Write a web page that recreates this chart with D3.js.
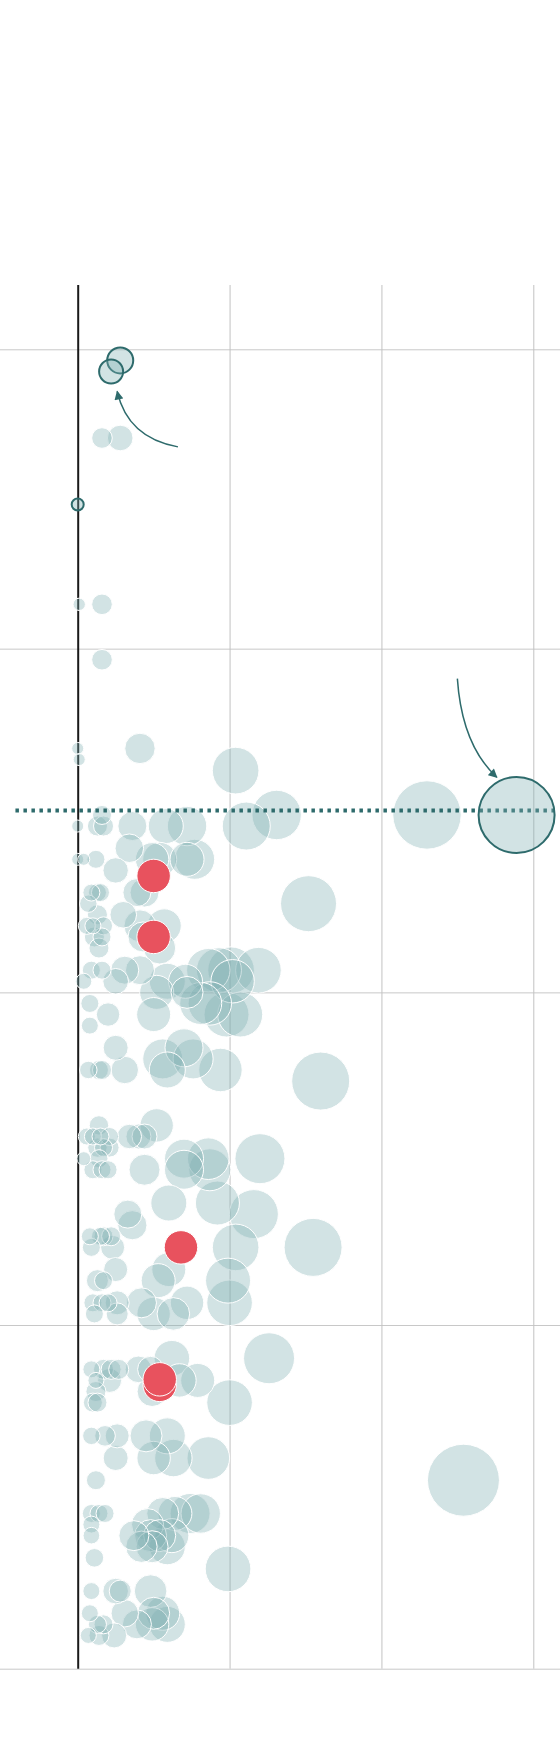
<!DOCTYPE html>
<html>
<head>
<meta charset="utf-8">
<script src="https://cdn.jsdelivr.net/npm/d3@7"></script>
<style>
  body { margin: 0; background: #fff; }
</style>
</head>
<body>
<div id="chart"></div>
<script>
// gridline values
const xTicks = [0, 10, 20, 30];
const dayTicks = [0, 27, 58, 88, 119];

// dotted reference line
const avgDay = 41.6;
const avgSpan = [-4.1, 31.5];

// [day, value, count]
const dots = [
  [8, 1.6, 106], [8, 2.8, 164],
  [23, 0.1, 38], [23, 1.6, 106],
  [28, 1.6, 106],
  [36, 0.0, 36], [36, 4.1, 231],
  [37, 0.1, 36],
  [38, 10.4, 543],
  [42, 1.6, 90], [42, 13.1, 610], [42, 23.0, 1170],
  [43, 0.0, 36], [43, 1.3, 100], [43, 1.7, 100], [43, 3.6, 210], [43, 5.8, 306], [43, 7.2, 388], [43, 11.1, 576],
  [45, 3.4, 204],
  [46, 0.0, 36], [46, 0.4, 36], [46, 1.2, 81], [46, 4.9, 279], [46, 5.4, 289], [46, 7.2, 289], [46, 7.7, 400],
  [47, 2.5, 161],
  [49, 0.9, 72], [49, 1.3, 81], [49, 1.5, 81], [49, 3.9, 196], [49, 4.4, 210],
  [50, 0.7, 76], [50, 15.2, 784],
  [51, 1.3, 100], [51, 3.0, 177],
  [52, 0.6, 72], [52, 1.0, 64], [52, 1.7, 81], [52, 4.1, 256], [52, 5.7, 289],
  [53, 1.1, 100], [53, 1.6, 81], [53, 4.3, 225],
  [54, 1.4, 100], [54, 5.4, 256],
  [56, 0.9, 81], [56, 1.6, 81], [56, 3.1, 196], [56, 4.1, 210], [56, 8.6, 471], [56, 9.3, 506], [56, 10.1, 543], [56, 11.9, 520],
  [57, 0.4, 64], [57, 2.5, 164], [57, 5.9, 324], [57, 7.1, 289], [57, 10.2, 471],
  [58, 5.2, 289], [58, 7.2, 256],
  [59, 0.8, 81], [59, 8.1, 441], [59, 8.7, 471],
  [60, 2.0, 137], [60, 5.0, 289], [60, 9.8, 506], [60, 10.7, 506],
  [61, 0.8, 72],
  [63, 2.5, 156], [63, 7.0, 361],
  [64, 5.6, 400], [64, 7.6, 400],
  [65, 0.7, 76], [65, 1.4, 90], [65, 1.6, 90], [65, 3.1, 188], [65, 5.9, 324], [65, 9.4, 471],
  [66, 16.0, 841],
  [70, 1.4, 94], [70, 5.2, 279],
  [71, 0.6, 72], [71, 1.0, 72], [71, 1.5, 72], [71, 2.1, 81], [71, 3.4, 149], [71, 4.0, 156], [71, 4.4, 156],
  [72, 1.3, 94], [72, 1.7, 81], [72, 2.1, 90],
  [73, 0.4, 49], [73, 1.4, 81], [73, 7.0, 380], [73, 8.6, 433], [73, 12.0, 625],
  [74, 1.0, 81], [74, 1.6, 81], [74, 2.0, 81], [74, 4.4, 240], [74, 7.0, 380], [74, 8.7, 441],
  [77, 6.0, 324], [77, 9.2, 484],
  [78, 3.3, 196], [78, 11.6, 600],
  [79, 3.6, 213],
  [80, 0.8, 72], [80, 1.5, 81], [80, 1.7, 90], [80, 2.2, 90],
  [81, 0.9, 81], [81, 2.3, 144], [81, 10.4, 543], [81, 15.5, 841],
  [83, 2.5, 144], [83, 6.0, 289],
  [84, 1.3, 121], [84, 1.7, 81], [84, 5.3, 289], [84, 9.9, 506],
  [86, 1.0, 81], [86, 1.6, 81], [86, 2.0, 81], [86, 2.6, 144], [86, 4.2, 225], [86, 7.2, 279], [86, 10.0, 520],
  [87, 1.1, 81], [87, 2.6, 121], [87, 5.0, 279], [87, 6.3, 266],
  [91, 6.2, 317], [91, 12.6, 650],
  [92, 0.9, 72], [92, 1.7, 100], [92, 2.2, 100], [92, 2.7, 100], [92, 4.0, 177], [92, 4.8, 169],
  [93, 1.2, 64], [93, 2.1, 144], [93, 6.7, 279], [93, 7.9, 289],
  [94, 1.2, 100], [94, 4.9, 225],
  [95, 1.0, 90], [95, 1.3, 90], [95, 10.0, 520],
  [98, 0.9, 76], [98, 1.8, 106], [98, 2.6, 144], [98, 4.5, 256], [98, 5.9, 324],
  [100, 2.5, 156], [100, 5.0, 279], [100, 6.3, 350], [100, 8.6, 454],
  [102, 1.2, 90], [102, 25.4, 1296],
  [105, 0.9, 81], [105, 1.4, 81], [105, 1.8, 81], [105, 5.6, 256], [105, 6.4, 289], [105, 7.4, 400], [105, 8.1, 388],
  [106, 0.9, 72], [106, 4.6, 256],
  [107, 0.9, 69], [107, 3.7, 225], [107, 4.8, 256], [107, 5.4, 256], [107, 6.2, 289],
  [108, 4.2, 246], [108, 4.9, 256], [108, 5.9, 324],
  [109, 1.1, 86],
  [110, 9.9, 520],
  [112, 0.9, 72], [112, 2.5, 164], [112, 2.8, 121], [112, 4.8, 266],
  [114, 0.8, 72], [114, 3.1, 188], [114, 5.0, 256], [114, 5.6, 289],
  [115, 1.3, 81], [115, 1.7, 90], [115, 3.9, 210], [115, 4.9, 279], [115, 5.9, 324],
  [116, 0.7, 64], [116, 1.4, 100], [116, 2.4, 156]
];

// highlighted in red
const redDots = [
  [47.5, 5.0, 280], [53, 5.0, 280], [81, 6.8, 280], [93.4, 5.4, 280], [92.9, 5.4, 280]
];

// outlined (annotated) dots
const ringDots = [
  [1, 2.8, 169], [2, 2.2, 144], [14, 0.0, 36], [42, 28.9, 1444]
];

// annotation arrows: [value, day] start, bend, end
const arrows = [
  [[6.6, 8.8], [3.3, 8.0], [2.6, 3.8]],
  [[25.0, 29.7], [25.3, 35.7], [27.6, 38.6]]
];

var width = 560, height = 1756;
var teal = "#2e6b6c";

var x = d3.scaleLinear().domain([0, 30]).range([77.7, 533.3]);
var y = d3.scaleLinear().domain([-5.8, 119]).range([285, 1668.7]);
var r = d3.scaleSqrt().domain([0, 1600]).range([0, 40]);

var svg = d3.select("#chart").append("svg")
    .attr("width", width)
    .attr("height", height);

svg.append("defs").append("marker")
    .attr("id", "head")
    .attr("viewBox", "0 0 10 10")
    .attr("refX", 9)
    .attr("refY", 5)
    .attr("markerUnits", "userSpaceOnUse")
    .attr("markerWidth", 10)
    .attr("markerHeight", 9)
    .attr("orient", "auto")
  .append("path")
    .attr("d", "M0,0 L10,5 L0,10 z")
    .attr("fill", teal);

// horizontal gridlines
var gy = svg.append("g")
    .call(d3.axisLeft(y).tickValues(dayTicks).tickSize(-width).tickFormat(""));
gy.select(".domain").remove();
gy.selectAll(".tick line").attr("stroke", "#c8c8c8");

// vertical gridlines
var gx = svg.append("g")
    .attr("transform", "translate(0," + y(-5.8) + ")")
    .call(d3.axisBottom(x).tickValues(xTicks).tickSize(y(119) - y(-5.8)).tickFormat(""));
gx.select(".domain").remove();
gx.selectAll(".tick line")
    .attr("stroke", function(d) { return d === 0 ? "#1a1a1a" : "#c2c2c2"; })
    .attr("stroke-width", function(d) { return d === 0 ? 2 : 1; });

// bubbles
var sorted = dots.slice().sort(function(a, b) { return b[2] - a[2]; });
svg.append("g").selectAll("circle")
    .data(sorted)
    .enter().append("circle")
    .attr("cx", function(d) { return x(d[1]); })
    .attr("cy", function(d) { return y(d[0]); })
    .attr("r", function(d) { return r(d[2]); })
    .attr("fill", "#7fb0b3")
    .attr("fill-opacity", 0.35)
    .attr("stroke", "#fff")
    .attr("stroke-width", 1);

svg.append("g").selectAll("circle")
    .data(redDots)
    .enter().append("circle")
    .attr("cx", function(d) { return x(d[1]); })
    .attr("cy", function(d) { return y(d[0]); })
    .attr("r", function(d) { return r(d[2]); })
    .attr("fill", "#e8525e")
    .attr("stroke", "#fff")
    .attr("stroke-width", 1);

// dotted line
svg.append("line")
    .attr("x1", x(avgSpan[0]))
    .attr("x2", x(avgSpan[1]))
    .attr("y1", y(avgDay))
    .attr("y2", y(avgDay))
    .attr("stroke", teal)
    .attr("stroke-width", 4)
    .attr("stroke-dasharray", "3.5,4.5");

svg.append("g").selectAll("circle")
    .data(ringDots)
    .enter().append("circle")
    .attr("cx", function(d) { return x(d[1]); })
    .attr("cy", function(d) { return y(d[0]); })
    .attr("r", function(d) { return r(d[2]); })
    .attr("fill", "#7fb0b3")
    .attr("fill-opacity", 0.35)
    .attr("stroke", teal)
    .attr("stroke-width", 2);

// arrows
svg.append("g").selectAll("path")
    .data(arrows)
    .enter().append("path")
    .attr("d", function(d) {
      return "M" + x(d[0][0]) + "," + y(d[0][1]) +
        " Q" + x(d[1][0]) + "," + y(d[1][1]) +
        " " + x(d[2][0]) + "," + y(d[2][1]);
    })
    .attr("fill", "none")
    .attr("stroke", teal)
    .attr("stroke-width", 1.5)
    .attr("marker-end", "url(#head)");
</script>
</body>
</html>
